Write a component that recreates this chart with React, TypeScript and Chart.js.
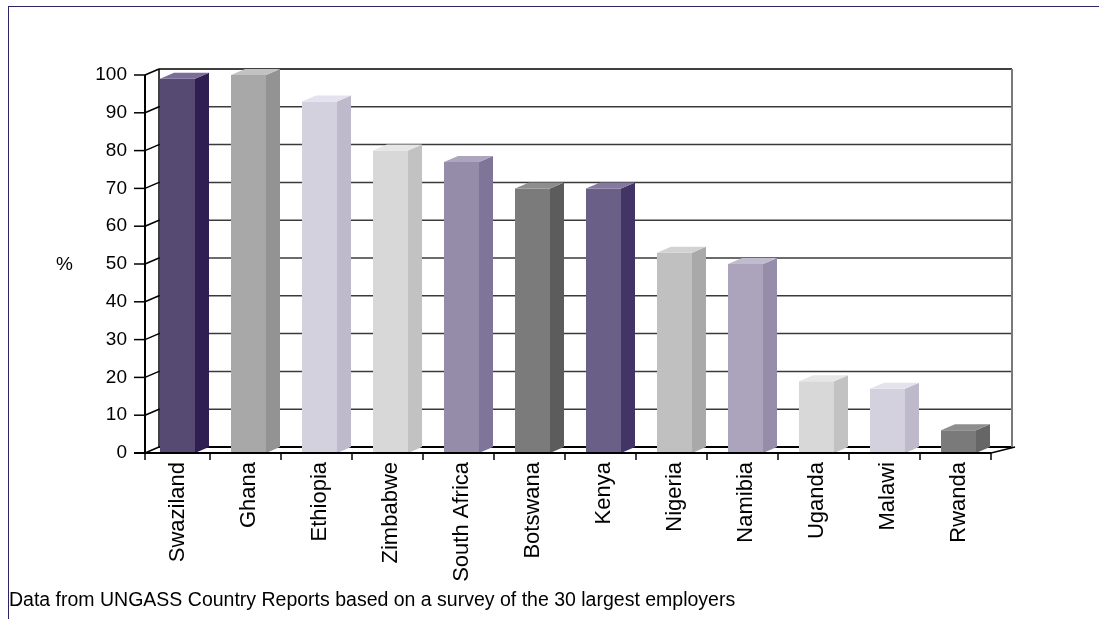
import React, { useEffect, useRef } from "react";
import { Chart, registerables } from "chart.js";

Chart.register(...registerables);

const categories = [
  "Swaziland", "Ghana", "Ethiopia", "Zimbabwe", "South Africa", "Botswana",
  "Kenya", "Nigeria", "Namibia", "Uganda", "Malawi", "Rwanda",
];
const values = [99, 100, 93, 80, 77, 70, 70, 53, 50, 19, 17, 6];
const frontColors = [
  "#574A72", "#A8A8A8", "#D4D1DF", "#D8D8D8", "#958CA9", "#7A7B7A",
  "#6A5F87", "#C0C0C0", "#ABA4BC", "#D8D8D8", "#D4D1DF", "#7A7A7A",
];
const sideColors = [
  "#2F1E52", "#939393", "#BEBACC", "#C2C2C2", "#7F7598", "#5C5C5C",
  "#433466", "#A9A9A9", "#958DAA", "#C2C2C2", "#BEBACC", "#666666",
];
const topColors = [
  "#7A6D98", "#C2C2C2", "#E4E2EC", "#E6E6E6", "#ACA5BD", "#8E8E8E",
  "#85799F", "#D2D2D2", "#C0BBCE", "#E6E6E6", "#E4E2EC", "#8E8E8E",
];
const yTicks = [0, 10, 20, 30, 40, 50, 60, 70, 80, 90, 100];
const yLabel = "%";
const footnote = "Data from UNGASS Country Reports based on a survey of the 30 largest employers";

const FONT = "'Liberation Sans', Arial, sans-serif";
const DX = 14;
const DY = -6;

const frame3D = {
  id: "frame3D",
  beforeDatasetsDraw(chart: any) {
    const ctx = chart.ctx;
    const ys = chart.scales.y;
    const ca = chart.chartArea;
    const FL = ca.left + 3;
    const BL = FL + DX;
    const BR = ca.right + 18;
    const FR = ca.right - 3;
    const y0 = ys.getPixelForValue(0);
    const yTop = ys.getPixelForValue(100);
    ctx.save();
    ctx.lineCap = "butt";
    yTicks.forEach((v) => {
      const y = ys.getPixelForValue(v) + DY;
      ctx.beginPath();
      ctx.strokeStyle = v === 0 || v === 100 ? "#000" : "#3a3a3a";
      ctx.lineWidth = v === 0 ? 2 : 1.5;
      ctx.moveTo(BL, y);
      ctx.lineTo(BR, y);
      ctx.stroke();
    });
    ctx.beginPath();
    ctx.strokeStyle = "#7a7a7a";
    ctx.lineWidth = 2;
    ctx.moveTo(BR, yTop + DY);
    ctx.lineTo(BR, y0 + DY);
    ctx.stroke();
    ctx.beginPath();
    ctx.strokeStyle = "#000";
    ctx.lineWidth = 1.5;
    ctx.moveTo(FR, y0);
    ctx.lineTo(BR + 3, y0 + DY);
    ctx.stroke();
    ctx.beginPath();
    ctx.strokeStyle = "#000";
    ctx.lineWidth = 1.5;
    ctx.moveTo(BL, yTop + DY);
    ctx.lineTo(BL, y0 + DY);
    ctx.stroke();
    yTicks.forEach((v) => {
      const y = ys.getPixelForValue(v);
      ctx.beginPath();
      ctx.moveTo(FL, y);
      ctx.lineTo(BL, y + DY);
      ctx.stroke();
      ctx.beginPath();
      ctx.moveTo(FL - 11, y);
      ctx.lineTo(FL, y);
      ctx.stroke();
    });
    ctx.beginPath();
    ctx.lineWidth = 2;
    ctx.moveTo(FL, yTop);
    ctx.lineTo(FL, y0);
    ctx.stroke();
    ctx.restore();
  },
  afterDatasetsDraw(chart: any) {
    const ctx = chart.ctx;
    const meta = chart.getDatasetMeta(0);
    const ys = chart.scales.y;
    const xs = chart.scales.x;
    const ca = chart.chartArea;
    ctx.save();
    meta.data.forEach((bar: any, i: number) => {
      const { x, y, base, width } = bar.getProps(["x", "y", "base", "width"], true);
      const x0 = x - width / 2;
      const x1 = x + width / 2;
      ctx.fillStyle = sideColors[i];
      ctx.beginPath();
      ctx.moveTo(x1, y);
      ctx.lineTo(x1 + DX, y + DY);
      ctx.lineTo(x1 + DX, base + DY);
      ctx.lineTo(x1, base);
      ctx.closePath();
      ctx.fill();
      ctx.fillStyle = topColors[i];
      ctx.beginPath();
      ctx.moveTo(x0, y);
      ctx.lineTo(x0 + DX, y + DY);
      ctx.lineTo(x1 + DX, y + DY);
      ctx.lineTo(x1, y);
      ctx.closePath();
      ctx.fill();
    });
    const FL = ca.left + 3;
    const FR = ca.right - 3;
    const y0 = ys.getPixelForValue(0);
    ctx.strokeStyle = "#000";
    ctx.lineWidth = 2;
    ctx.beginPath();
    ctx.moveTo(FL - 11, y0);
    ctx.lineTo(FR, y0);
    ctx.stroke();
    const n = categories.length;
    const cw = (xs.right - xs.left) / n;
    ctx.lineWidth = 1.5;
    for (let i = 0; i <= n; i++) {
      const tx = Math.max(FL, xs.left + i * cw - 3);
      ctx.beginPath();
      ctx.moveTo(tx, y0);
      ctx.lineTo(tx, y0 + 7);
      ctx.stroke();
    }
    ctx.restore();
  },
};

export default function App() {
  const ref = useRef<HTMLCanvasElement>(null);
  useEffect(() => {
    if (!ref.current) return;
    const chart = new Chart(ref.current, {
      type: "bar",
      data: {
        labels: categories,
        datasets: [
          {
            data: values,
            backgroundColor: frontColors,
            borderWidth: 0,
            barPercentage: 0.493,
            categoryPercentage: 1,
          },
        ],
      },
      options: {
        responsive: false,
        animation: false,
        devicePixelRatio: 1,
        layout: { padding: { left: 0, top: 75, right: 105, bottom: 0 } },
        plugins: { legend: { display: false }, tooltip: { enabled: false } },
        scales: {
          x: {
            grid: { display: false, drawTicks: false },
            border: { display: false },
            ticks: {
              minRotation: 90,
              maxRotation: 90,
              autoSkip: false,
              padding: 9,
              color: "#000",
              font: { family: FONT, size: 22 },
            },
            afterFit: (s: any) => {
              s.height = 166;
            },
          },
          y: {
            min: 0,
            max: 100,
            grid: { display: false, drawTicks: false },
            border: { display: false },
            ticks: {
              stepSize: 10,
              padding: 15,
              color: "#000",
              font: { family: FONT, size: 19 },
            },
            afterFit: (s: any) => {
              s.width = 142;
            },
          },
        },
      },
      plugins: [frame3D],
    });
    return () => chart.destroy();
  }, []);

  return (
    <div style={{ position: "fixed", inset: 0, overflow: "hidden", background: "#fff" }}>
      <div
        style={{
          position: "absolute",
          left: 8,
          top: 6,
          width: 1300,
          height: 800,
          border: "1px solid #2E2366",
        }}
      />
      <canvas
        ref={ref}
        width={1099}
        height={619}
        style={{ position: "absolute", left: 0, top: 0, width: 1099, height: 619 }}
      />
      <span
        style={{
          position: "absolute",
          left: 56,
          top: 253,
          fontFamily: FONT,
          fontSize: 19,
          color: "#000",
          lineHeight: "22px",
        }}
      >
        {yLabel}
      </span>
      <span
        style={{
          position: "absolute",
          left: 9,
          top: 588,
          fontFamily: FONT,
          fontSize: 19.5,
          color: "#000",
          lineHeight: "22px",
          whiteSpace: "nowrap",
        }}
      >
        {footnote}
      </span>
    </div>
  );
}
